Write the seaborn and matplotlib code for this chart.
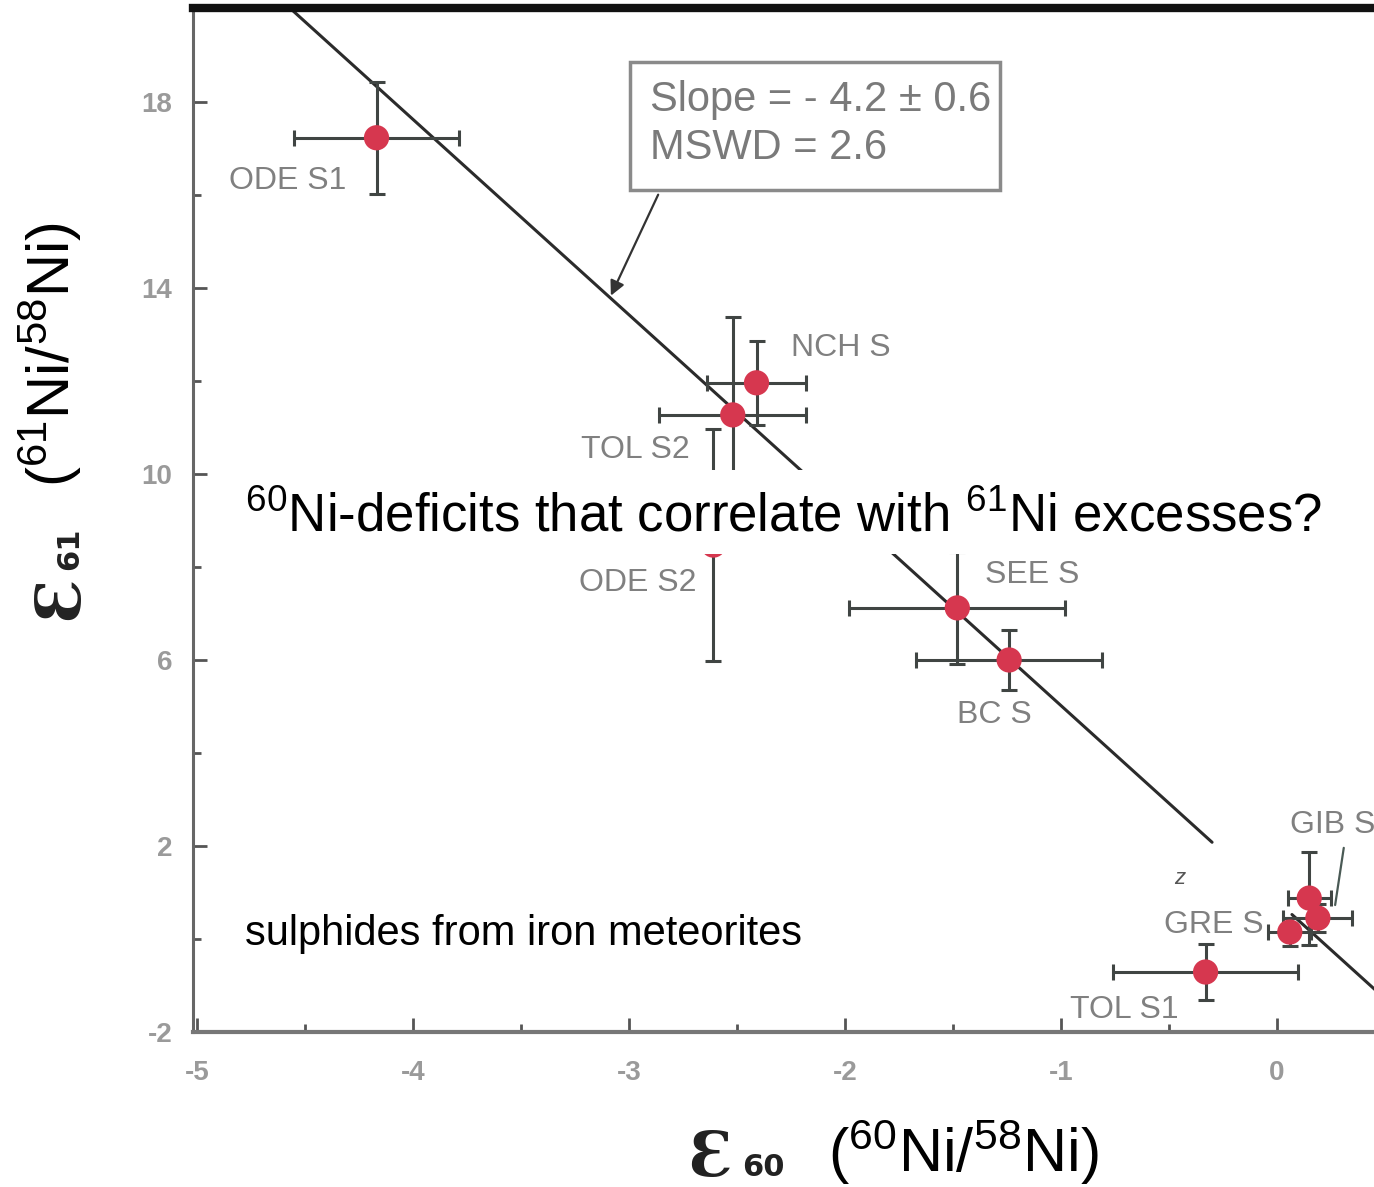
import matplotlib
matplotlib.use("Agg")
import matplotlib.pyplot as plt
import numpy as np
import pandas as pd
import seaborn as sns
from matplotlib.patches import Rectangle

# data
samples = ["ODE S1", "NCH S", "TOL S2", "ODE S2", "SEE S", "BC S", "TOL S1", "GRE S", "GIB S", "GIB S2"]
e60 = [-4.17, -2.41, -2.52, -2.61, -1.48, -1.24, -0.33, 0.06, 0.15, 0.19]
e61 = [17.23, 11.96, 11.27, 8.47, 7.12, 6.00, -0.71, 0.15, 0.88, 0.45]
e60_err = [0.38, 0.23, 0.34, 0.30, 0.50, 0.43, 0.43, 0.10, 0.10, 0.16]
e61_err = [1.20, 0.90, 2.10, 2.50, 1.20, 0.65, 0.60, 0.30, 1.00, 0.30]

# label text and where it sits (data coords)
label_text = ["ODE S1", "NCH S", "TOL S2", "ODE S2", "SEE S", "BC S", "GIB S", "GRE S", "TOL S1"]
label_x = [-4.31, -2.25, -2.72, -2.69, -1.35, -1.31, 0.06, -0.06, -0.96]
label_y = [16.3, 12.71, 10.52, 7.66, 7.83, 4.82, 2.45, 0.30, -1.53]
label_ha = ["right", "left", "right", "right", "left", "center", "left", "right", "left"]

# regression line
fit_slope = -4.2
fit_intercept = 0.82
fit_segments = [(-4.65, -0.30), (0.07, 0.46)]
fit_text = ["Slope = - 4.2 \u00b1 0.6", "MSWD = 2.6"]

x_ticks = [-5, -4, -3, -2, -1, 0]
y_ticks = [-2, 2, 6, 10, 14, 18]

sns.set_style("ticks")
plt.rcParams["font.family"] = ["Liberation Sans", "DejaVu Sans"]
plt.rcParams["axes.unicode_minus"] = False
plt.rcParams["mathtext.fontset"] = "custom"
plt.rcParams["mathtext.rm"] = "Liberation Sans"
plt.rcParams["mathtext.it"] = "Liberation Sans:italic"
plt.rcParams["mathtext.bf"] = "Liberation Sans:bold"

df = pd.DataFrame({"sample": samples, "e60": e60, "e61": e61,
                   "e60_err": e60_err, "e61_err": e61_err})

fig = plt.figure(figsize=(13.74, 11.87), dpi=100)
ax = fig.add_axes([193 / 1374, 155 / 1187, 1 - 193 / 1374, (1032 - 8) / 1187])
ax.set_xlim(-5.02, 0.45)
ax.set_ylim(-2, 20.02)

# fit line, drawn as two pieces like the scan
for x0, x1 in fit_segments:
    seg = pd.DataFrame({"x": [x0, x1]})
    seg["y"] = fit_slope * seg["x"] + fit_intercept
    sns.lineplot(data=seg, x="x", y="y", ax=ax, color="#2b2b2b", lw=2.2, zorder=2)

ax.errorbar(df["e60"], df["e61"], xerr=df["e60_err"], yerr=df["e61_err"], fmt="none",
            ecolor="#404543", elinewidth=2.2, capsize=6, capthick=2.2, zorder=3)
sns.scatterplot(data=df, x="e60", y="e61", ax=ax, s=330, color="#d6374f",
                edgecolor="none", zorder=4, legend=False)

for t, x, y, ha in zip(label_text, label_x, label_y, label_ha):
    ax.text(x, y, t, ha=ha, va="center", fontsize=23, color="#808080", zorder=5)
ax.text(-0.45, 1.31, "z", ha="center", va="center", fontsize=16, color="#555555", style="italic")
ax.plot([0.31, 0.27], [1.96, 0.73], color="#4a5a55", lw=1.6, zorder=3)

# slope box + arrow
ax.add_patch(Rectangle((-2.995, 16.11), 1.713, 2.75, facecolor="white",
                       edgecolor="#8a8a8a", lw=2.5, zorder=5))
ax.text(-2.903, 18.04, fit_text[0], ha="left", va="center", fontsize=30,
        color="#7a7a7a", zorder=6)
ax.text(-2.903, 17.01, fit_text[1], ha="left", va="center", fontsize=30,
        color="#7a7a7a", zorder=6)
ax.annotate("", xy=(-3.09, 13.78), xytext=(-2.86, 16.06),
            arrowprops=dict(arrowstyle="-|>", color="#333333", lw=1.6, mutation_scale=22), zorder=5)

# axes styling
ax.set_xticks(x_ticks)
ax.set_yticks(y_ticks)
ax.set_xticks(np.arange(-4.5, 0.5, 1.0), minor=True)
ax.set_yticks([0, 4, 8, 12, 16], minor=True)
ax.tick_params(axis="both", which="major", direction="in", length=10, width=2,
               color="#555555", labelsize=20, labelcolor="#9a9a9a")
ax.tick_params(axis="both", which="minor", direction="in", length=6, width=2, color="#555555")
ax.tick_params(axis="y", pad=15)
ax.tick_params(axis="x", pad=20)
for lab in ax.get_xticklabels() + ax.get_yticklabels():
    lab.set_fontweight("bold")
ax.set_xlabel("")
ax.set_ylabel("")
ax.spines["right"].set_visible(False)
ax.spines["left"].set_color("#666666")
ax.spines["left"].set_linewidth(2.2)
ax.spines["bottom"].set_color("#777777")
ax.spines["bottom"].set_linewidth(3)
ax.spines["top"].set_color("#111111")
ax.spines["top"].set_linewidth(6)

# white banner with the question
fig.patches.append(Rectangle((0.168, 0.533), 0.84, 0.071, transform=fig.transFigure,
                             facecolor="white", edgecolor="none", zorder=10))
fig.text(245 / 1374, 1 - 531 / 1187, "$^{60}$Ni-deficits that correlate with $^{61}$Ni excesses?",
         fontsize=38, color="black", ha="left", va="baseline", zorder=11)
fig.text(245 / 1374, 1 - 945 / 1187, "sulphides from iron meteorites",
         fontsize=30, color="black", ha="left", va="baseline", zorder=11)

# axis titles
fig.text(688 / 1374, 1 - 1176 / 1187, "\u0190", family="DejaVu Serif", fontsize=44,
         weight="bold", color="#222222", ha="left", va="baseline")
fig.text(742 / 1374, 1 - 1176 / 1187, "60", family="DejaVu Sans", fontsize=22,
         weight="bold", color="#222222", ha="left", va="baseline")
fig.text(828 / 1374, 1 - 1172 / 1187, "($^{60}$Ni/$^{58}$Ni)", fontsize=44,
         color="black", ha="left", va="baseline")

fig.text(78 / 1374, 1 - 620 / 1187, "\u0190", family="DejaVu Serif", fontsize=44,
         weight="bold", color="#222222", ha="left", va="baseline", rotation=90,
         rotation_mode="anchor")
fig.text(78 / 1374, 1 - 570 / 1187, "61", family="DejaVu Sans", fontsize=22,
         weight="bold", color="#222222", ha="left", va="baseline", rotation=90,
         rotation_mode="anchor")
fig.text(70 / 1374, 1 - 487 / 1187, "($^{61}$Ni/$^{58}$Ni)", fontsize=43,
         color="black", ha="left", va="baseline", rotation=90, rotation_mode="anchor")

fig.savefig("out.png", dpi=100)
